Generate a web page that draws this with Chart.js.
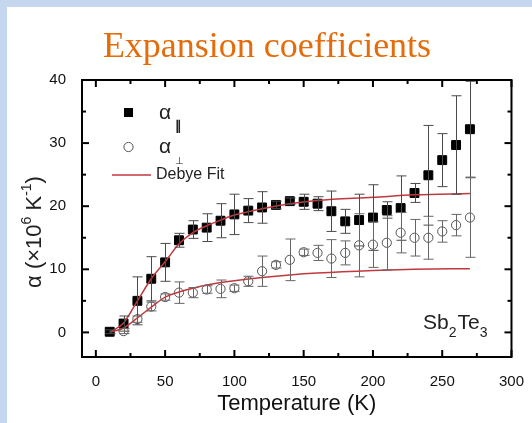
<!DOCTYPE html>
<html>
<head>
<meta charset="utf-8">
<title>Expansion coefficients</title>
<script src="https://cdn.jsdelivr.net/npm/chart.js@4.4.0/dist/chart.umd.min.js"></script>
<style>
  html, body { margin: 0; padding: 0; background: #c6d6ee; overflow: hidden; }
  #chart { display: block; }
</style>
</head>
<body>
<canvas id="chart" width="532" height="423"></canvas>
<script>
// Sb2Te3 thermal expansion

// alpha parallel (filled squares)
const temps = [10, 20, 30, 40, 50, 60, 70, 80, 90, 100, 110, 120, 130, 140,
  150, 160, 170, 180, 190, 200, 210, 220, 230, 240, 250, 260, 270];
const alphaPar = [0.1, 1.4, 5.0, 8.5, 11.1, 14.6, 16.3, 16.6, 17.7, 18.7, 19.3, 19.8, 20.2, 20.8,
  20.7, 20.4, 19.2, 17.6, 17.8, 18.2, 19.4, 19.7, 22.1, 24.9, 27.3, 29.7, 32.2];
const alphaParErr = [0.3, 1.2, 3.8, 3.5, 3.0, 1.1, 1.4, 2.2, 2.7, 3.2, 1.9, 2.5, 0.6, 0.5,
  1.2, 1.1, 3.2, 1.9, 4.1, 5.2, 1.3, 5.1, 1.5, 7.9, 4.2, 7.8, 7.6];

// alpha perpendicular (open circles)
const tempsPerp = [20, 30, 40, 50, 60, 70, 80, 90, 100, 110, 120, 130, 140,
  150, 160, 170, 180, 190, 200, 210, 220, 230, 240, 250, 260, 270];
const alphaPerp = [0.2, 2.1, 4.1, 5.6, 6.3, 6.3, 6.8, 6.9, 7.0, 8.1, 9.7, 10.7, 11.5,
  12.7, 12.6, 11.7, 12.6, 13.8, 13.9, 14.2, 15.8, 15.0, 15.0, 16.0, 17.0, 18.2];
const alphaPerpErr = [0.4, 0.5, 0.7, 0.5, 1.7, 0.8, 0.6, 1.4, 0.5, 0.8, 2.4, 0.5, 3.3,
  0.5, 1.2, 3.0, 1.9, 5.0, 3.6, 4.3, 3.2, 2.9, 3.4, 1.7, 1.7, 6.3];

// Debye fit curves
const fitTemps = [10, 20, 30, 40, 50, 60, 70, 80, 90, 100, 120, 140, 160, 200, 230, 270];
const fitPar = [0.0, 1.5, 5.0, 8.5, 11.2, 14.0, 15.8, 16.9, 17.8, 18.6, 19.6, 20.4, 20.9, 21.4, 21.8, 22.0];
const fitPerp = [0.0, 0.7, 2.3, 4.0, 5.6, 6.4, 7.0, 7.5, 7.9, 8.2, 8.7, 9.1, 9.4, 9.8, 10.0, 10.1];

// axis minor ticks
const xMinor = [25, 75, 125, 175, 225, 275];
const yMinor = [5, 15, 25, 35];

const sans = "'Liberation Sans', Arial, sans-serif";
const fitColor = '#c0393e';

const toPts = (xs, ys) => xs.map((t, i) => ({ x: t, y: ys[i] }));

// slide background + title
const slide = {
  id: 'slide',
  beforeDraw(chart) {
    const ctx = chart.ctx;
    ctx.save();
    ctx.fillStyle = '#c6d6ee';
    ctx.fillRect(0, 0, chart.width, chart.height);
    ctx.fillStyle = '#fff';
    ctx.fillRect(7, 7, chart.width - 7, chart.height - 7);
    ctx.fillStyle = '#e46c0a';
    ctx.font = "36px 'Liberation Serif', 'Times New Roman', serif";
    ctx.textAlign = 'center';
    ctx.textBaseline = 'alphabetic';
    ctx.fillText('Expansion coefficients', 267, 57);
    ctx.restore();
  }
};

// vertical error bars with caps
const errorBars = {
  id: 'errorBars',
  afterDatasetsDraw(chart) {
    const { ctx, scales: { x, y } } = chart;
    ctx.save();
    ctx.lineWidth = 1;
    chart.data.datasets.forEach(ds => {
      if (!ds.errors) return;
      ctx.strokeStyle = ds.errorColor;
      ds.data.forEach((p, j) => {
        const e = ds.errors[j];
        const px = Math.round(x.getPixelForValue(p.x)) + 0.5;
        const top = y.getPixelForValue(p.y + e);
        const bot = y.getPixelForValue(p.y - e);
        ctx.beginPath();
        ctx.moveTo(px, top); ctx.lineTo(px, bot);
        ctx.moveTo(px - 5, top); ctx.lineTo(px + 5, top);
        ctx.moveTo(px - 5, bot); ctx.lineTo(px + 5, bot);
        ctx.stroke();
      });
    });
    ctx.restore();
  }
};

// box frame with inward ticks on all four sides, legend and labels
const frame = {
  id: 'frame',
  afterDraw(chart) {
    const { ctx, chartArea: a, scales: { x, y } } = chart;
    const ds = chart.data.datasets;
    ctx.save();
    ctx.strokeStyle = '#000';
    ctx.lineWidth = 2;
    ctx.strokeRect(a.left, a.top, a.right - a.left, a.bottom - a.top);

    const seg = (x1, y1, x2, y2) => { ctx.beginPath(); ctx.moveTo(x1, y1); ctx.lineTo(x2, y2); ctx.stroke(); };
    const xTick = (v, len) => {
      const px = x.getPixelForValue(v);
      seg(px, a.bottom, px, a.bottom - len);
      seg(px, a.top, px, a.top + len);
    };
    const yTick = (v, len) => {
      const py = y.getPixelForValue(v);
      seg(a.left, py, a.left + len, py);
      seg(a.right, py, a.right - len, py);
    };
    x.ticks.forEach(t => xTick(t.value, 7));
    xMinor.forEach(v => xTick(v, 4));
    y.ticks.forEach(t => yTick(t.value, 7));
    yMinor.forEach(v => yTick(v, 4));

    // legend
    ctx.fillStyle = ds[2].backgroundColor;
    ctx.fillRect(124, 108, 9, 9);
    ctx.beginPath();
    ctx.arc(128.5, 147, 4.6, 0, Math.PI * 2);
    ctx.fillStyle = '#fff';
    ctx.fill();
    ctx.lineWidth = 1;
    ctx.strokeStyle = ds[3].borderColor;
    ctx.stroke();
    ctx.strokeStyle = fitColor;
    ctx.lineWidth = 1.5;
    seg(112, 175, 151, 175);

    ctx.fillStyle = '#222';
    ctx.textBaseline = 'alphabetic';
    ctx.textAlign = 'left';
    ctx.font = '21px ' + sans;
    ctx.fillText('α', 159, 119);
    ctx.fillText('α', 159, 153);
    ctx.font = 'bold 13px ' + sans;
    ctx.fillText('∥', 175, 130);
    ctx.font = '10px ' + sans;
    ctx.fillText('⊥', 175, 164);
    ctx.font = '16px ' + sans;
    ctx.textBaseline = 'middle';
    ctx.fillText('Debye Fit', 156, 175);

    // compound label
    const parts = [['Sb', 0], ['2', 1], ['Te', 0], ['3', 1]];
    let cx = 423;
    ctx.textBaseline = 'alphabetic';
    parts.forEach(([s, sub]) => {
      ctx.font = (sub ? '14px ' : '21px ') + sans;
      ctx.fillText(s, cx, sub ? 337 : 329);
      cx += ctx.measureText(s).width + (sub ? 1 : 0);
    });

    // y axis title (rotated)
    const yParts = [['α (×10', 0], ['6', 1], [' K', 0], ['-1', 1], [')', 0]];
    ctx.translate(35, 232);
    ctx.rotate(-Math.PI / 2);
    let w = 0;
    yParts.forEach(([s, sup]) => { ctx.font = (sup ? '14px ' : '22px ') + sans; w += ctx.measureText(s).width; });
    let tx = -w / 2;
    ctx.textBaseline = 'middle';
    yParts.forEach(([s, sup]) => {
      ctx.font = (sup ? '14px ' : '22px ') + sans;
      ctx.fillText(s, tx, sup ? -8 : 0);
      tx += ctx.measureText(s).width;
    });
    ctx.restore();
  }
};

new Chart(document.getElementById('chart'), {
  type: 'scatter',
  data: {
    datasets: [
      {
        label: 'Debye Fit',
        data: toPts(fitTemps, fitPar),
        showLine: true,
        borderColor: fitColor,
        borderWidth: 1.5,
        pointRadius: 0,
        cubicInterpolationMode: 'monotone',
        order: 0,
      },
      {
        label: 'Debye Fit',
        data: toPts(fitTemps, fitPerp),
        showLine: true,
        borderColor: fitColor,
        borderWidth: 1.5,
        pointRadius: 0,
        cubicInterpolationMode: 'monotone',
        order: 0,
      },
      {
        label: 'α∥',
        data: toPts(temps, alphaPar),
        errors: alphaParErr,
        errorColor: '#4a4a4a',
        pointStyle: 'rect',
        pointRadius: 6.3,
        backgroundColor: '#000',
        borderColor: '#000',
        borderWidth: 1,
        order: 1,
      },
      {
        label: 'α⊥',
        data: toPts(tempsPerp, alphaPerp),
        errors: alphaPerpErr,
        errorColor: '#666',
        pointStyle: 'circle',
        pointRadius: 4.6,
        backgroundColor: '#fff',
        borderColor: '#555',
        borderWidth: 1,
        order: 2,
      },
    ]
  },
  options: {
    responsive: false,
    animation: false,
    devicePixelRatio: 1,
    layout: { padding: { top: 80, right: 19, left: 0, bottom: 0 } },
    plugins: {
      legend: { display: false },
      tooltip: { enabled: false },
    },
    scales: {
      x: {
        type: 'linear',
        min: -10,
        max: 300,
        afterFit: (s) => { s.height = 66; },
        grid: { display: false },
        border: { display: false },
        ticks: {
          stepSize: 50,
          includeBounds: false,
          color: '#111',
          padding: 8,
          maxRotation: 0,
          font: { family: sans, size: 15 },
        },
        title: {
          display: true,
          text: 'Temperature (K)',
          color: '#111',
          font: { family: sans, size: 22 },
          padding: { top: 0, bottom: 6 },
        }
      },
      y: {
        min: -3.9,
        max: 40,
        afterFit: (s) => { s.width = 82; },
        grid: { display: false },
        border: { display: false },
        ticks: {
          stepSize: 10,
          includeBounds: false,
          color: '#111',
          padding: 8,
          font: { family: sans, size: 15 },
        }
      }
    }
  },
  plugins: [slide, errorBars, frame]
});
</script>
</body>
</html>
